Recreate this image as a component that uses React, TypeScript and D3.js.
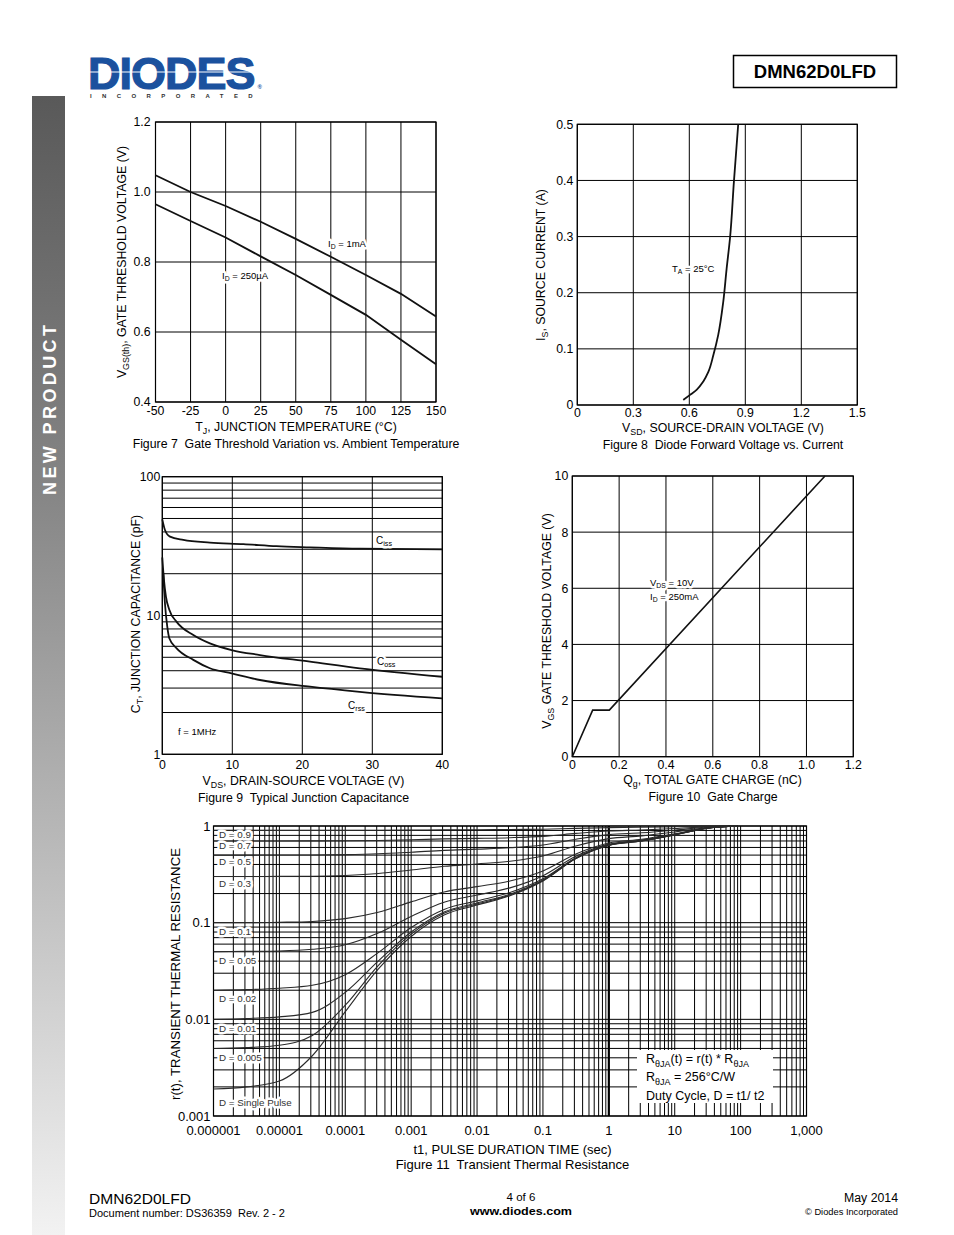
import React from "react";
import * as d3 from "d3";

const FONT = "'Liberation Sans', Arial, Helvetica, sans-serif";
const INK = "#000";

// Figure 7 - gate threshold vs junction temperature
const fig7Temp = [-50, -25, 0, 25, 50, 75, 100, 125, 150];
const fig7Vth1mA = [1.048, 1.0, 0.96, 0.915, 0.866, 0.815, 0.763, 0.709, 0.644];
const fig7Vth250uA = [0.965, 0.917, 0.87, 0.816, 0.763, 0.706, 0.649, 0.578, 0.508];
const fig7XTicks = [-50, -25, 0, 25, 50, 75, 100, 125, 150];
const fig7YTicks = [0.4, 0.6, 0.8, 1.0, 1.2];

// Figure 8 - diode forward voltage
const fig8Vsd = [0.568, 0.604, 0.639, 0.675, 0.702, 0.729, 0.755, 0.782, 0.8, 0.818, 0.839, 0.862];
const fig8Is = [0.009, 0.018, 0.027, 0.042, 0.059, 0.089, 0.125, 0.184, 0.243, 0.297, 0.398, 0.5];
const fig8XTicks = [0, 0.3, 0.6, 0.9, 1.2, 1.5];
const fig8YTicks = [0, 0.1, 0.2, 0.3, 0.4, 0.5];

// Figure 9 - junction capacitance
const fig9CissV = [0, 0.38, 1.1, 3, 6.8, 11.6, 16.3, 21.1, 28.2, 40];
const fig9Ciss = [49.3, 41.3, 37, 35, 33.5, 32.7, 31.6, 31, 30.3, 30];
const fig9CossV = [0, 0.24, 0.52, 1, 2.05, 4.43, 6.8, 9.9, 13.95, 21.1, 28.2, 40];
const fig9Coss = [26.2, 18, 13.7, 11, 9.0, 7.24, 6.3, 5.64, 5.19, 4.65, 4.16, 3.62];
const fig9CrssV = [0.14, 0.38, 0.71, 1, 2.05, 4.43, 6.8, 9.9, 13.95, 21.1, 28.2, 40];
const fig9Crss = [20.1, 12.2, 8.3, 6.86, 5.8, 4.79, 4.17, 3.83, 3.43, 3.07, 2.82, 2.53];
const fig9XTicks = [0, 10, 20, 30, 40];
const fig9YTicks = [1, 10, 100];

// Figure 10 - gate charge
const fig10Qg = [0, 0.087, 0.158, 1.079];
const fig10Vgs = [0, 1.66, 1.66, 10];
const fig10XTicks = [0, 0.2, 0.4, 0.6, 0.8, 1.0, 1.2];
const fig10YTicks = [0, 2, 4, 6, 8, 10];

// Figure 11 - transient thermal resistance
const fig11Time = [0.000001, 0.00000316, 0.00001, 0.0000316, 0.0001, 0.000316, 0.001, 0.00316, 0.01, 0.0316, 0.1, 0.316, 1, 3.16, 10, 31.6, 89];
const fig11D09 = [0.9, 0.9, 0.9, 0.9, 0.901, 0.903, 0.907, 0.912, 0.915, 0.919, 0.927, 0.946, 0.963, 0.97, 0.981, 0.995, 1.0];
const fig11D07 = [0.7, 0.7, 0.7, 0.701, 0.703, 0.709, 0.721, 0.736, 0.745, 0.757, 0.781, 0.838, 0.889, 0.91, 0.943, 0.985, 1.0];
const fig11D05 = [0.5, 0.5, 0.501, 0.502, 0.506, 0.516, 0.536, 0.56, 0.576, 0.595, 0.635, 0.73, 0.815, 0.85, 0.905, 0.975, 1.0];
const fig11D03 = [0.3, 0.3, 0.301, 0.302, 0.308, 0.322, 0.35, 0.383, 0.405, 0.432, 0.489, 0.622, 0.741, 0.79, 0.867, 0.965, 1.0];
const fig11D01 = [0.1, 0.1, 0.101, 0.103, 0.11, 0.128, 0.164, 0.208, 0.236, 0.27, 0.343, 0.514, 0.667, 0.73, 0.829, 0.955, 1.0];
const fig11D005 = [0.05, 0.0505, 0.051, 0.053, 0.059, 0.078, 0.116, 0.163, 0.193, 0.229, 0.306, 0.487, 0.649, 0.715, 0.82, 0.953, 1.0];
const fig11D002 = [0.02, 0.0203, 0.021, 0.0225, 0.029, 0.049, 0.089, 0.137, 0.168, 0.205, 0.284, 0.47, 0.637, 0.706, 0.814, 0.951, 1.0];
const fig11D001 = [0.01, 0.0102, 0.0106, 0.0118, 0.019, 0.04, 0.08, 0.129, 0.16, 0.197, 0.276, 0.465, 0.634, 0.703, 0.812, 0.95, 1.0];
const fig11D0005 = [0.005, 0.0051, 0.0054, 0.0068, 0.014, 0.036, 0.076, 0.125, 0.156, 0.193, 0.273, 0.462, 0.632, 0.7, 0.811, 0.95, 1.0];
const fig11Single = [0.0019, 0.002, 0.0023, 0.0042, 0.012, 0.033, 0.072, 0.12, 0.152, 0.19, 0.27, 0.46, 0.63, 0.7, 0.81, 0.95, 1.0];
const fig11Duty = ["D = 0.9", "D = 0.7", "D = 0.5", "D = 0.3", "D = 0.1", "D = 0.05", "D = 0.02", "D = 0.01", "D = 0.005", "D = Single Pulse"];
const fig11XTicks = [0.000001, 0.00001, 0.0001, 0.001, 0.01, 0.1, 1, 10, 100, 1000];
const fig11XLabels = ["0.000001", "0.00001", "0.0001", "0.001", "0.01", "0.1", "1", "10", "100", "1,000"];
const fig11YTicks = [0.001, 0.01, 0.1, 1];
const fig11YLabels = ["0.001", "0.01", "0.1", "1"];

type Part = string | { sub: string };

function spans(parts: Part[], size: number) {
  let inSub = false;
  return parts.map((p, i) => {
    if (typeof p === "string") {
      const dy = inSub ? -size * 0.28 : 0;
      inSub = false;
      return (
        <tspan key={i} dy={dy} fontSize={size}>
          {p}
        </tspan>
      );
    }
    const dy = inSub ? 0 : size * 0.28;
    inSub = true;
    return (
      <tspan key={i} dy={dy} fontSize={size * 0.72}>
        {p.sub}
      </tspan>
    );
  });
}

function Rich({ x, y, parts, size = 12.3, anchor = "start", rotate = false, halo = false, fill = INK, weight = "normal", textLength }: any) {
  const common = {
    x: rotate ? 0 : x,
    y: rotate ? 0 : y,
    transform: rotate ? `translate(${x},${y}) rotate(-90)` : undefined,
    textAnchor: anchor,
    fontSize: size,
    fontWeight: weight,
    textLength,
    lengthAdjust: textLength ? "spacingAndGlyphs" : undefined,
  };
  const label = (
    <text {...common} fill={fill}>
      {spans(parts, size)}
    </text>
  );
  if (!halo) return label;
  // white backing drawn as a separate layer underneath the real text
  return (
    <g>
      <text {...common} fill="#fff" stroke="#fff" strokeWidth={5} strokeLinejoin="round" aria-hidden="true">
        {spans(parts, size)}
      </text>
      {label}
    </g>
  );
}

function Frame({ xs, ys, gridX, gridY, xTicks, yTicks, xFmt, yFmt, xLabelDy, yLabelDx, size = 12.3, boldX = [], children }: any) {
  const [l, r] = xs.range();
  const [b, t] = ys.range();
  return (
    <g>
      {gridX.map((v: number, i: number) => (
        <line key={"gx" + i} x1={xs(v)} x2={xs(v)} y1={t} y2={b} stroke={INK} strokeWidth={boldX.includes(v) ? 2.2 : 1} />
      ))}
      {gridY.map((v: number, i: number) => (
        <line key={"gy" + i} x1={l} x2={r} y1={ys(v)} y2={ys(v)} stroke={INK} strokeWidth={1} />
      ))}
      <rect x={l} y={t} width={r - l} height={b - t} fill="none" stroke={INK} strokeWidth={1.2} />
      {children}
      {xTicks.map((v: number, i: number) => (
        <text key={"xt" + i} x={xs(v)} y={b + xLabelDy} textAnchor="middle" fontSize={size}>
          {xFmt(v, i)}
        </text>
      ))}
      {yTicks.map((v: number, i: number) => (
        <text key={"yt" + i} x={l - yLabelDx} y={ys(v) + size * 0.36} textAnchor="end" fontSize={size}>
          {yFmt(v, i)}
        </text>
      ))}
    </g>
  );
}

const zip = (a: number[], b: number[]) => a.map((v, i) => [v, b[i]] as [number, number]);
const f1 = (v: number) => (v === 0 ? "0" : d3.format(".1f")(v));

function Fig7() {
  const xs = d3.scaleLinear().domain([-50, 150]).range([155.5, 436]);
  const ys = d3.scaleLinear().domain([0.4, 1.2]).range([402, 122]);
  const line = d3.line<[number, number]>().x((d) => xs(d[0])).y((d) => ys(d[1]));
  return (
    <g>
      <Frame xs={xs} ys={ys} gridX={fig7XTicks} gridY={fig7YTicks} xTicks={fig7XTicks} yTicks={fig7YTicks} xFmt={(v: number) => String(v)} yFmt={(v: number) => d3.format(".1f")(v)} xLabelDy={13} yLabelDx={5}>
        <path d={line(zip(fig7Temp, fig7Vth1mA)) || ""} fill="none" stroke="#111" strokeWidth={1.8} />
        <path d={line(zip(fig7Temp, fig7Vth250uA)) || ""} fill="none" stroke="#111" strokeWidth={1.8} />
        <Rich x={328} y={246.5} size={9.5} halo parts={["I", { sub: "D" }, " = 1mA"]} />
        <Rich x={222} y={278.5} size={9.5} halo parts={["I", { sub: "D" }, " = 250µA"]} />
      </Frame>
      <Rich x={126} y={262} rotate anchor="middle" parts={["V", { sub: "GS(th)" }, ", GATE THRESHOLD VOLTAGE (V)"]} />
      <Rich x={296} y={431} anchor="middle" parts={["T", { sub: "J" }, ", JUNCTION TEMPERATURE (°C)"]} />
      <text x={296} y={448} textAnchor="middle" fontSize={12.3} style={{ whiteSpace: "pre" }}>
        Figure 7  Gate Threshold Variation vs. Ambient Temperature
      </text>
    </g>
  );
}

function Fig8() {
  const xs = d3.scaleLinear().domain([0, 1.5]).range([577.3, 857.3]);
  const ys = d3.scaleLinear().domain([0, 0.5]).range([405, 124.3]);
  const line = d3.line<[number, number]>().x((d) => xs(d[0])).y((d) => ys(d[1])).curve(d3.curveMonotoneY);
  return (
    <g>
      <Frame xs={xs} ys={ys} gridX={fig8XTicks} gridY={fig8YTicks} xTicks={fig8XTicks} yTicks={fig8YTicks} xFmt={f1} yFmt={f1} xLabelDy={12} yLabelDx={4}>
        <path d={line(zip(fig8Vsd, fig8Is)) || ""} fill="none" stroke="#111" strokeWidth={1.8} />
        <Rich x={672} y={271.5} size={9.5} halo parts={["T", { sub: "A" }, " = 25°C"]} />
      </Frame>
      <Rich x={545} y={265} rotate anchor="middle" parts={["I", { sub: "S" }, ", SOURCE CURRENT (A)"]} />
      <Rich x={723} y={432} anchor="middle" parts={["V", { sub: "SD" }, ", SOURCE-DRAIN VOLTAGE (V)"]} />
      <text x={723} y={449} textAnchor="middle" fontSize={12.3} style={{ whiteSpace: "pre" }}>
        Figure 8  Diode Forward Voltage vs. Current
      </text>
    </g>
  );
}

function Fig9() {
  const xs = d3.scaleLinear().domain([0, 40]).range([162.3, 442.3]);
  const ys = d3.scaleLog().domain([1, 100]).range([754.3, 476.7]);
  const line = d3.line<[number, number]>().x((d) => xs(d[0])).y((d) => ys(d[1])).curve(d3.curveMonotoneX);
  const gridY = d3.range(1, 10).flatMap((k) => [k, k * 10]).concat([100]);
  return (
    <g>
      <Frame xs={xs} ys={ys} gridX={fig9XTicks} gridY={gridY} xTicks={fig9XTicks} yTicks={fig9YTicks} xFmt={(v: number) => String(v)} yFmt={(v: number) => String(v)} xLabelDy={14.5} yLabelDx={2}>
        <path d={line(zip(fig9CissV, fig9Ciss)) || ""} fill="none" stroke="#111" strokeWidth={1.8} />
        <path d={line(zip(fig9CossV, fig9Coss)) || ""} fill="none" stroke="#111" strokeWidth={1.8} />
        <path d={line(zip(fig9CrssV, fig9Crss)) || ""} fill="none" stroke="#111" strokeWidth={1.8} />
        <Rich x={376} y={543.5} size={10} halo parts={["C", { sub: "iss" }]} />
        <Rich x={377} y={664.5} size={10} halo parts={["C", { sub: "oss" }]} />
        <Rich x={348} y={708.5} size={10} halo parts={["C", { sub: "rss" }]} />
        <Rich x={178} y={735} size={9.5} halo parts={["f = 1MHz"]} />
      </Frame>
      <Rich x={140} y={614} rotate anchor="middle" parts={["C", { sub: "T" }, ", JUNCTION CAPACITANCE (pF)"]} />
      <Rich x={303.5} y={785} anchor="middle" parts={["V", { sub: "DS" }, ", DRAIN-SOURCE VOLTAGE (V)"]} />
      <text x={303.5} y={802} textAnchor="middle" fontSize={12.3} style={{ whiteSpace: "pre" }}>
        Figure 9  Typical Junction Capacitance
      </text>
    </g>
  );
}

function Fig10() {
  const xs = d3.scaleLinear().domain([0, 1.2]).range([572.3, 853.3]);
  const ys = d3.scaleLinear().domain([0, 10]).range([756.7, 476]);
  const line = d3.line<[number, number]>().x((d) => xs(d[0])).y((d) => ys(d[1]));
  return (
    <g>
      <Frame xs={xs} ys={ys} gridX={fig10XTicks} gridY={fig10YTicks} xTicks={fig10XTicks} yTicks={fig10YTicks} xFmt={f1} yFmt={(v: number) => String(v)} xLabelDy={12} yLabelDx={4}>
        <path d={line(zip(fig10Qg, fig10Vgs)) || ""} fill="none" stroke="#111" strokeWidth={1.6} />
        <Rich x={650} y={585.5} size={9.5} halo parts={["V", { sub: "DS" }, " = 10V"]} />
        <Rich x={650} y={599.5} size={9.5} halo parts={["I", { sub: "D" }, " = 250mA"]} />
      </Frame>
      <Rich x={551} y={621} rotate anchor="middle" parts={["V", { sub: "GS" }, " GATE THRESHOLD VOLTAGE (V)"]} />
      <Rich x={712.5} y={784} anchor="middle" parts={["Q", { sub: "g" }, ", TOTAL GATE CHARGE (nC)"]} />
      <text x={713} y={801} textAnchor="middle" fontSize={12.3} style={{ whiteSpace: "pre" }}>
        Figure 10  Gate Charge
      </text>
    </g>
  );
}

function Fig11() {
  const xs = d3.scaleLog().domain([0.000001, 1000]).range([213.5, 806.5]);
  const ys = d3.scaleLog().domain([0.001, 1]).range([1116, 826]);
  const line = d3.line<[number, number]>().x((d) => xs(d[0])).y((d) => ys(d[1])).curve(d3.curveMonotoneX);
  const gridX = d3.range(-6, 3).flatMap((n) => d3.range(1, 10).map((k) => k * Math.pow(10, n))).concat([1000]);
  const gridY = d3.range(-3, 0).flatMap((n) => d3.range(1, 10).map((k) => k * Math.pow(10, n))).concat([1]);
  const series = [fig11D09, fig11D07, fig11D05, fig11D03, fig11D01, fig11D005, fig11D002, fig11D001, fig11D0005, fig11Single];
  const labelDy = [4.5, 5, 6.5, 6.5, 9, 9, 8, 9.5, 9.5, 13];
  return (
    <g>
      <Frame
        xs={xs}
        ys={ys}
        gridX={gridX}
        gridY={gridY}
        xTicks={fig11XTicks}
        yTicks={fig11YTicks}
        xFmt={(_: number, i: number) => fig11XLabels[i]}
        yFmt={(_: number, i: number) => fig11YLabels[i]}
        xLabelDy={19}
        yLabelDx={3}
        size={13}
        boldX={[1]}
      >
        {series.map((s, i) => (
          <path key={i} d={line(zip(fig11Time, s)) || ""} fill="none" stroke="#2a2a2a" strokeWidth={1.1} />
        ))}
        {fig11Duty.map((d, i) => (
          <Rich key={d} x={219} y={ys(series[i][0]) + labelDy[i] + 3.5} size={9.8} halo fill="#333" parts={[d]} />
        ))}
        <rect x={637} y={1050} width={136} height={53} fill="#fff" />
        <Rich x={646} y={1063} size={12.5} parts={["R", { sub: "θJA" }, "(t) = r(t) * R", { sub: "θJA" }]} />
        <Rich x={646} y={1081} size={12.5} parts={["R", { sub: "θJA" }, " = 256°C/W"]} />
        <Rich x={646} y={1100} size={12.5} parts={["Duty Cycle, D = t1/ t2"]} />
      </Frame>
      <Rich x={180} y={974} rotate anchor="middle" size={13} textLength={252} parts={["r(t), TRANSIENT THERMAL RESISTANCE"]} />
      <text x={512.5} y={1154} textAnchor="middle" fontSize={13}>
        t1, PULSE DURATION TIME (sec)
      </text>
      <text x={512.5} y={1169} textAnchor="middle" fontSize={13} style={{ whiteSpace: "pre" }}>
        Figure 11  Transient Thermal Resistance
      </text>
    </g>
  );
}

function Header() {
  return (
    <g>
      {/* logo word, mark and tagline kept in one text element */}
      <text fontWeight={900}>
        <tspan x={88} y={89} fontSize={45} fill="#1b519e" stroke="#1b519e" strokeWidth={1.2} style={{ letterSpacing: "-1px" }}>
          DIODES
        </tspan>
        <tspan dx={3} fontSize={6} fill="#1b519e" stroke="none">
          ®
        </tspan>
        <tspan x={90} y={97.5} fontSize={6} fontWeight="bold" fill="#333" stroke="none" style={{ letterSpacing: "10.4px" }}>
          INCORPORATED
        </tspan>
      </text>
      <line x1={86} x2={256} y1={72} y2={72} stroke="#fff" strokeWidth={1.2} />
      <rect x={733.5} y={55.5} width={163} height={32} fill="none" stroke={INK} strokeWidth={1.5} />
      <text x={815} y={77.5} textAnchor="middle" fontSize={18.5} fontWeight="bold">
        DMN62D0LFD
      </text>
    </g>
  );
}

function SideBar() {
  return (
    <g>
      <defs>
        <linearGradient id="sideGrad" x1="0" x2="0" y1="0" y2="1">
          <stop offset="0" stopColor="#595959" />
          <stop offset="0.35" stopColor="#868686" />
          <stop offset="1" stopColor="#f2f2f2" />
        </linearGradient>
      </defs>
      <rect x={32} y={96} width={33} height={1139} fill="url(#sideGrad)" />
      <text transform="translate(55.5,495) rotate(-90)" fontSize={18} fontWeight="bold" fill="#fff" textLength={170} lengthAdjust="spacing">
        NEW PRODUCT
      </text>
    </g>
  );
}

function Footer() {
  return (
    <g>
      <text x={89} y={1204} fontSize={14} textLength={102} lengthAdjust="spacingAndGlyphs">
        DMN62D0LFD
      </text>
      <text x={89} y={1217} fontSize={10.5} textLength={196} lengthAdjust="spacingAndGlyphs" style={{ whiteSpace: "pre" }}>
        Document number: DS36359  Rev. 2 - 2
      </text>
      <text x={521} y={1201} fontSize={11.5} textAnchor="middle">
        4 of 6
      </text>
      <text x={521} y={1215} fontSize={11.5} fontWeight="bold" textAnchor="middle" textLength={102} lengthAdjust="spacingAndGlyphs">
        www.diodes.com
      </text>
      <text x={898} y={1202} fontSize={12} textAnchor="end" textLength={54} lengthAdjust="spacingAndGlyphs">
        May 2014
      </text>
      <text x={898} y={1214.5} fontSize={9} textAnchor="end" textLength={93} lengthAdjust="spacingAndGlyphs">
        © Diodes Incorporated
      </text>
    </g>
  );
}

export default function App() {
  return (
    <svg width={954} height={1235} viewBox="0 0 954 1235" fontFamily={FONT} style={{ position: "absolute", left: 0, top: 0, background: "#fff" }}>
      <rect width={954} height={1235} fill="#fff" />
      <Header />
      <SideBar />
      <Fig7 />
      <Fig8 />
      <Fig9 />
      <Fig10 />
      <Fig11 />
      <Footer />
    </svg>
  );
}
